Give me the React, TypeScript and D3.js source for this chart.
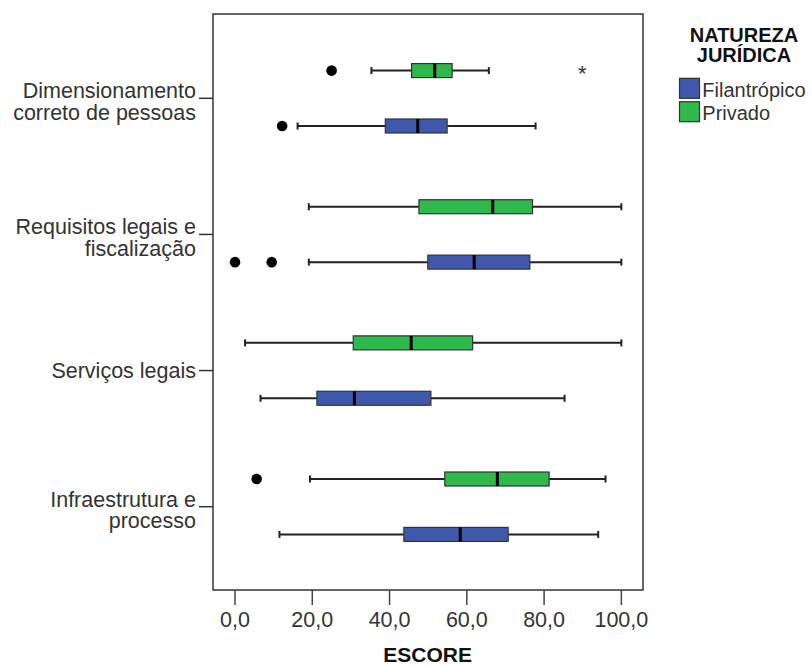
import React from "react";
import * as d3 from "d3";

const categories = [
  "Dimensionamento correto de pessoas",
  "Requisitos legais e fiscalização",
  "Serviços legais",
  "Infraestrutura e processo",
];
const categoryLines = [
  ["Dimensionamento", "correto de pessoas"],
  ["Requisitos legais e", "fiscalização"],
  ["Serviços legais"],
  ["Infraestrutura e", "processo"],
];
const groups = ["Privado", "Filantrópico"];
const legendOrder = ["Filantrópico", "Privado"];
const groupColors = ["#2fb84b", "#3f58ab"];

// [min whisker, Q1, median, Q3, max whisker]
const privadoStats = [
  [35.3, 45.7, 51.7, 56.2, 65.7],
  [19.1, 47.6, 66.7, 77.0, 100],
  [2.6, 30.6, 45.6, 61.5, 100],
  [19.4, 54.3, 67.9, 81.3, 95.9],
];
const filantropicoStats = [
  [16.2, 38.9, 47.3, 54.9, 77.8],
  [19.1, 49.9, 61.9, 76.3, 100],
  [6.6, 21.2, 30.9, 50.7, 85.3],
  [11.5, 43.7, 58.3, 70.7, 94.0],
];
const privadoOutliers = [[25.0], [], [], [5.6]];
const filantropicoOutliers = [[12.2], [0, 9.5], [], []];
const privadoExtremes = [[89.9], [], [], []];
const filantropicoExtremes = [[], [], [], []];

const xTicks = [0, 20, 40, 60, 80, 100];

const FONT = "'Liberation Sans', Arial, sans-serif";

export default function App() {
  const W = 811, H = 666;
  const left = 213, right = 643, top = 14, bottom = 590;
  const x = d3.scaleLinear().domain([-5.7, 105.6]).range([left, right]);
  const y = d3.scalePoint<string>().domain(categories).range([98.3, 506.7]);
  const g = d3.scalePoint<string>().domain(groups).range([-27.7, 27.7]);
  const fmt = (v: number) => d3.format(".1f")(v).replace(".", ",");
  const statsByGroup = [privadoStats, filantropicoStats];
  const outByGroup = [privadoOutliers, filantropicoOutliers];
  const extByGroup = [privadoExtremes, filantropicoExtremes];
  const boxH = 14;
  const capH = 7;

  return (
    <svg width={W} height={H} style={{ position: "absolute", left: 0, top: 0, background: "#fff" }} fontFamily={FONT}>
      <rect x={0} y={0} width={W} height={H} fill="#fff" />
      {/* frame */}
      <rect x={left} y={top} width={right - left} height={bottom - top} fill="none" stroke="#333" strokeWidth={1.5} />
      {/* x axis ticks */}
      {xTicks.map((t) => (
        <g key={t}>
          <line x1={x(t)} x2={x(t)} y1={bottom} y2={bottom + 15} stroke="#444" strokeWidth={1.5} />
          <text x={x(t)} y={627.3} textAnchor="middle" fontSize={21.5} fill="#333">{fmt(t)}</text>
        </g>
      ))}
      <text x={427.7} y={661.5} textAnchor="middle" fontSize={21} fontWeight="bold" fill="#111">ESCORE</text>
      {/* y axis ticks and labels */}
      {categories.map((c, i) => {
        const yy = y(c)!;
        const lines = categoryLines[i];
        return (
          <g key={c}>
            <line x1={199} x2={left} y1={yy} y2={yy} stroke="#333" strokeWidth={1.5} />
            {lines.map((ln, j) => (
              <text key={j} x={196} y={lines.length === 1 ? yy + 7.5 : yy + j * 21.7} textAnchor="end" fontSize={21.5} fill="#333">{ln}</text>
            ))}
          </g>
        );
      })}
      {/* boxes */}
      {categories.map((c, i) =>
        groups.map((gr, k) => {
          const s = statsByGroup[k][i];
          const cy = y(c)! + g(gr)!;
          return (
            <g key={c + gr}>
              <line x1={x(s[0])} x2={x(s[1])} y1={cy} y2={cy} stroke="#222" strokeWidth={2} />
              <line x1={x(s[3])} x2={x(s[4])} y1={cy} y2={cy} stroke="#222" strokeWidth={2} />
              <line x1={x(s[0])} x2={x(s[0])} y1={cy - capH / 2} y2={cy + capH / 2} stroke="#222" strokeWidth={2} />
              <line x1={x(s[4])} x2={x(s[4])} y1={cy - capH / 2} y2={cy + capH / 2} stroke="#222" strokeWidth={2} />
              <rect x={x(s[1])} y={cy - boxH / 2} width={x(s[3]) - x(s[1])} height={boxH} fill={groupColors[k]} stroke="#333" strokeWidth={1.2} />
              <line x1={x(s[2])} x2={x(s[2])} y1={cy - boxH / 2} y2={cy + boxH / 2} stroke="#000" strokeWidth={3} />
              {outByGroup[k][i].map((v, m) => (
                <circle key={m} cx={x(v)} cy={cy} r={5.3} fill="#000" />
              ))}
              {extByGroup[k][i].map((v, m) => (
                <text key={m} x={x(v)} y={cy + 10} textAnchor="middle" fontSize={22} fill="#333">*</text>
              ))}
            </g>
          );
        })
      )}
      {/* legend */}
      <text x={744} y={41.7} textAnchor="middle" fontSize={20} fontWeight="bold" fill="#111">NATUREZA</text>
      <text x={744} y={61.7} textAnchor="middle" fontSize={20} fontWeight="bold" fill="#111">JURÍDICA</text>
      {legendOrder.map((name, i) => {
        const k = groups.indexOf(name);
        const yy = 78.3 + i * 23.4;
        return (
          <g key={name}>
            <rect x={679.5} y={yy} width={20} height={20} fill={groupColors[k]} stroke="#333" strokeWidth={1.2} />
            <text x={702.3} y={yy + 18.3} fontSize={20} fill="#333">{name}</text>
          </g>
        );
      })}
    </svg>
  );
}
